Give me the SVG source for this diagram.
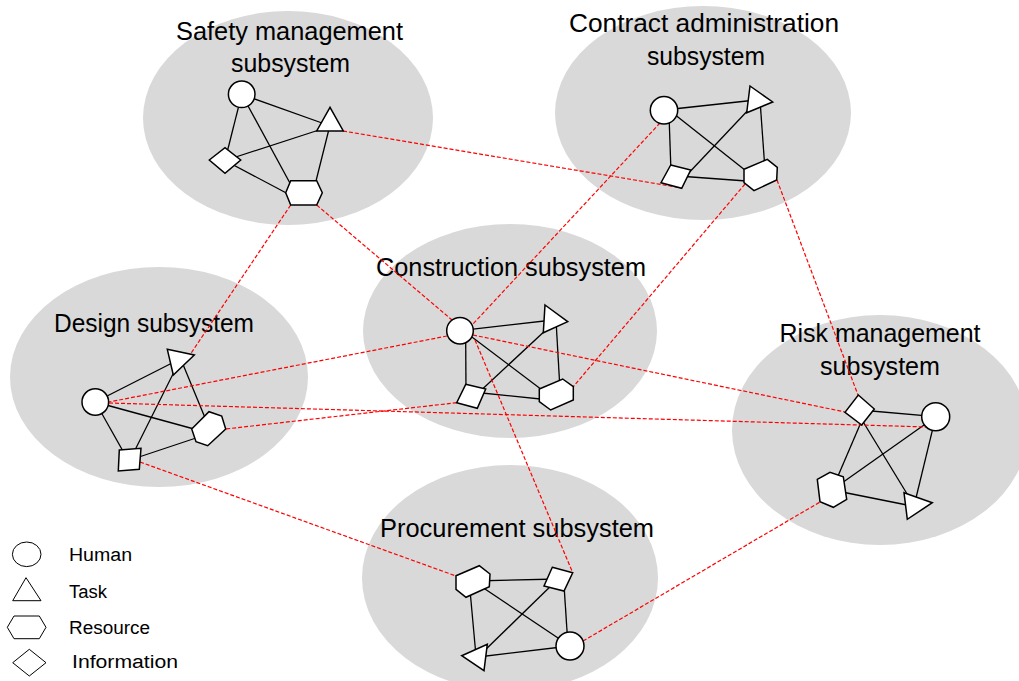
<svg xmlns="http://www.w3.org/2000/svg" width="1019" height="681" viewBox="0 0 1019 681">
<defs>
<style>
.sub{fill:#d9d9d9;stroke:none}
.title{font-family:"Liberation Sans",Arial,sans-serif;font-size:25px;fill:#000;text-anchor:middle}
.leg{font-family:"Liberation Sans",Arial,sans-serif;font-size:18px;fill:#000}
.e{stroke:#000;stroke-width:1.3;fill:none}
.r{stroke:#ff0000;stroke-width:1.2;stroke-dasharray:4 2;fill:none}
.n{fill:#fff;stroke:#000;stroke-width:1.5}
.ln{fill:#fff;stroke:#000;stroke-width:1}
</style>
</defs>
<rect width="1019" height="681" fill="#fff"/>
<g id="subsystems">
<g id="safety-subsystem">
<ellipse class="sub" cx="288" cy="118" rx="145" ry="107"/>
<text class="title" x="289.5" y="40" textLength="227" lengthAdjust="spacingAndGlyphs">Safety management</text>
<text class="title" x="290.5" y="72" textLength="119" lengthAdjust="spacingAndGlyphs">subsystem</text>
</g>
<g id="contract-subsystem">
<ellipse class="sub" cx="703" cy="113" rx="148" ry="107"/>
<text class="title" x="704" y="32" textLength="270" lengthAdjust="spacingAndGlyphs">Contract administration</text>
<text class="title" x="706" y="65" textLength="118" lengthAdjust="spacingAndGlyphs">subsystem</text>
</g>
<g id="construction-subsystem">
<ellipse class="sub" cx="510" cy="331" rx="147" ry="107"/>
<text class="title" x="511" y="276" textLength="270" lengthAdjust="spacingAndGlyphs">Construction subsystem</text>
</g>
<g id="design-subsystem">
<ellipse class="sub" cx="159" cy="377" rx="149" ry="110"/>
<text class="title" x="154" y="332" textLength="200" lengthAdjust="spacingAndGlyphs">Design subsystem</text>
</g>
<g id="risk-subsystem">
<ellipse class="sub" cx="880" cy="430" rx="148" ry="115"/>
<text class="title" x="880" y="342" textLength="201" lengthAdjust="spacingAndGlyphs">Risk management</text>
<text class="title" x="880" y="375" textLength="120" lengthAdjust="spacingAndGlyphs">subsystem</text>
</g>
<g id="procurement-subsystem">
<ellipse class="sub" cx="510" cy="578" rx="148" ry="113"/>
<text class="title" x="517" y="537" textLength="274" lengthAdjust="spacingAndGlyphs">Procurement subsystem</text>
</g>
</g>
<g id="connectors">
<!-- safety internal -->
<line class="e" x1="241.7" y1="94.3" x2="322" y2="123"/>
<line class="e" x1="241.7" y1="94.3" x2="225" y2="160.5"/>
<line class="e" x1="241.7" y1="94.3" x2="291" y2="185"/>
<line class="e" x1="225" y1="160.5" x2="319" y2="130"/>
<line class="e" x1="225" y1="160.5" x2="292" y2="196"/>
<line class="e" x1="330" y1="125" x2="315" y2="185"/>
<!-- contract internal -->
<line class="e" x1="664" y1="110" x2="756" y2="100"/>
<line class="e" x1="669" y1="115" x2="671" y2="172"/>
<line class="e" x1="664" y1="106" x2="755" y2="178"/>
<line class="e" x1="752" y1="106" x2="684" y2="178"/>
<line class="e" x1="760" y1="100" x2="765" y2="170"/>
<line class="e" x1="678" y1="176" x2="760" y2="182"/>
<!-- construction internal -->
<line class="e" x1="460" y1="330.7" x2="553" y2="320"/>
<line class="e" x1="465.7" y1="340" x2="466" y2="392"/>
<line class="e" x1="460" y1="328" x2="550" y2="396"/>
<line class="e" x1="548" y1="328" x2="475" y2="396"/>
<line class="e" x1="556" y1="320" x2="560" y2="390"/>
<line class="e" x1="472" y1="392" x2="550" y2="400"/>
<!-- design internal -->
<line class="e" x1="95.3" y1="402" x2="178" y2="360"/>
<line class="e" x1="95.3" y1="402" x2="205" y2="432"/>
<line class="e" x1="95.3" y1="402" x2="128" y2="460"/>
<line class="e" x1="182" y1="362" x2="208" y2="425"/>
<line class="e" x1="176" y1="368" x2="130" y2="460"/>
<line class="e" x1="130" y1="460" x2="205" y2="435"/>
<!-- risk internal -->
<line class="e" x1="860" y1="410" x2="935.7" y2="416.7"/>
<line class="e" x1="862" y1="420" x2="832" y2="490"/>
<line class="e" x1="862" y1="420" x2="912" y2="502"/>
<line class="e" x1="935.7" y1="416.7" x2="832" y2="490"/>
<line class="e" x1="935.7" y1="416.7" x2="915" y2="502"/>
<line class="e" x1="832" y1="490" x2="912" y2="506"/>
<!-- procurement internal -->
<line class="e" x1="473" y1="581" x2="558" y2="579"/>
<line class="e" x1="473" y1="581" x2="570" y2="646"/>
<line class="e" x1="470" y1="590" x2="476" y2="656"/>
<line class="e" x1="558" y1="579" x2="480" y2="655"/>
<line class="e" x1="564" y1="585" x2="568" y2="646"/>
<line class="e" x1="478" y1="657" x2="570" y2="646"/>
<!-- inter-subsystem links -->
<line class="r" x1="343" y1="131" x2="682" y2="188"/>
<line class="r" x1="290.7" y1="205" x2="188.5" y2="357"/>
<line class="r" x1="316.7" y1="205" x2="452" y2="320"/>
<line class="r" x1="660" y1="123" x2="473" y2="324"/>
<line class="r" x1="745" y1="184" x2="573" y2="387"/>
<line class="r" x1="777" y1="180" x2="858" y2="395"/>
<line class="r" x1="447" y1="336" x2="109" y2="402"/>
<line class="r" x1="473" y1="335" x2="845" y2="412"/>
<line class="r" x1="475" y1="340" x2="572.7" y2="572.7"/>
<line class="r" x1="456.7" y1="402.7" x2="225.7" y2="429"/>
<line class="r" x1="109" y1="403" x2="928" y2="427"/>
<line class="r" x1="140" y1="462" x2="456" y2="576"/>
<line class="r" x1="583" y1="641" x2="820" y2="502"/>
</g>
<g id="nodes">
<g id="safety-human"><circle class="n" cx="241.7" cy="94.3" r="13.3"/></g>
<g id="safety-task"><polygon class="n" points="330,107.3 316.7,131 343.3,131"/></g>
<g id="safety-information"><polygon class="n" points="209.3,160 225,147.7 240.7,160 225,173.3"/></g>
<g id="safety-resource"><polygon class="n" points="285.7,192.7 290.7,180.7 316.7,180.7 322.3,192.7 316.7,205 290.7,205"/></g>

<g id="contract-human"><circle class="n" cx="664" cy="110.3" r="13.7"/></g>
<g id="contract-task"><polygon class="n" points="750,86 772.7,102 746.7,112.7"/></g>
<g id="contract-information"><polygon class="n" points="670.7,165 690.7,170 681.7,188.3 661,182.7"/></g>
<g id="contract-resource"><polygon class="n" points="744,169.3 767.3,159.3 777.3,167.3 776.7,180 754,190.7 744,182.7"/></g>

<g id="construction-human"><circle class="n" cx="460" cy="330.7" r="13.3"/></g>
<g id="construction-task"><polygon class="n" points="545,305 567.7,321.7 543.3,332.7"/></g>
<g id="construction-information"><polygon class="n" points="465.7,384.3 485.7,389 477.3,408.3 456.7,402.7"/></g>
<g id="construction-resource"><polygon class="n" points="539.3,389 562.7,379 573.3,386.7 573.3,400 550.7,410 539.3,401.7"/></g>

<g id="design-human"><circle class="n" cx="95.3" cy="402" r="13.3"/></g>
<g id="design-task"><polygon class="n" points="167.3,349.3 194.3,355 173.3,375"/></g>
<g id="design-resource"><polygon class="n" points="191.7,429 209,411.7 221.7,416 225.7,429 207.7,445.7 196,441.7"/></g>
<g id="design-information"><polygon class="n" points="119.3,450 141,448.3 139.3,469.3 118.3,471"/></g>

<g id="risk-information"><polygon class="n" points="858.3,395 874.3,409 861.7,425 845,412.3"/></g>
<g id="risk-human"><circle class="n" cx="935.7" cy="416.7" r="14"/></g>
<g id="risk-resource"><polygon class="n" points="817.3,479.3 830,472.3 843.3,476.7 846.7,499.3 833.3,507.3 820,501.7"/></g>
<g id="risk-task"><polygon class="n" points="904,492.7 932.3,502.7 907.3,519.3"/></g>

<g id="procurement-resource"><polygon class="n" points="456,575.7 479.3,565.7 490,574 489.3,586.7 466,597.3 456,589.3"/></g>
<g id="procurement-information"><polygon class="n" points="552.3,567.3 572.7,572.7 564,591 544,586"/></g>
<g id="procurement-task"><polygon class="n" points="461.7,655.7 487.3,644.3 484,670.7"/></g>
<g id="procurement-human"><circle class="n" cx="570" cy="646" r="14"/></g>
</g>
<g id="legend">
<ellipse class="ln" cx="26.7" cy="554.3" rx="14.3" ry="12.3"/>
<polygon class="ln" points="26,577.7 12.7,600.7 41,600.7"/>
<polygon class="ln" points="7.3,627.3 14,616 39.3,616 46,627.3 39.3,638.7 14,638.7"/>
<polygon class="ln" points="12.7,662.7 29.3,649.3 46,662.7 29.3,676"/>
<text class="leg" x="69" y="561" textLength="63" lengthAdjust="spacingAndGlyphs">Human</text>
<text class="leg" x="69" y="597.7" textLength="38" lengthAdjust="spacingAndGlyphs">Task</text>
<text class="leg" x="69" y="634.3" textLength="81" lengthAdjust="spacingAndGlyphs">Resource</text>
<text class="leg" x="72" y="668.3" textLength="106" lengthAdjust="spacingAndGlyphs">Information</text>
</g>
</svg>
